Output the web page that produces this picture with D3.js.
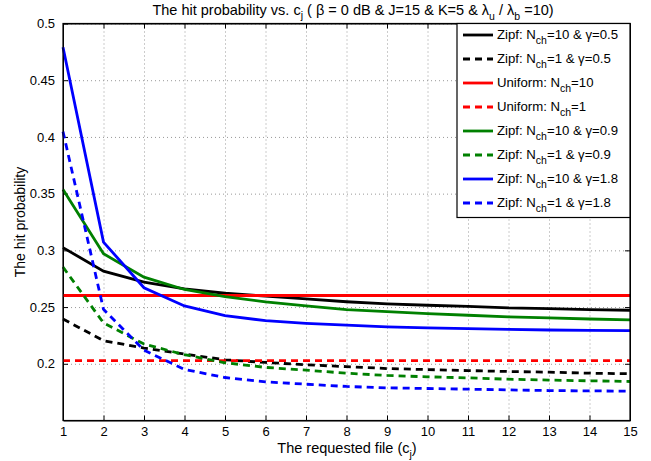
<!DOCTYPE html>
<html>
<head>
<meta charset="utf-8">
<script src="https://cdn.jsdelivr.net/npm/d3@7"></script>
<style>
  body { margin: 0; background: #fff; }
  svg { font-family: "Liberation Sans", Arial, sans-serif; }
</style>
</head>
<body>
<div id="root"></div>
<script>
// requested file index c_j
const files = [1, 2, 3, 4, 5, 6, 7, 8, 9, 10, 11, 12, 13, 14, 15];

// hit probability per curve
const zipf10g05 = [0.3024, 0.2817, 0.272, 0.2661, 0.2622, 0.2596, 0.2572, 0.2547, 0.2528, 0.2516, 0.2507, 0.2493, 0.2487, 0.2478, 0.2472];
const zipf1g05 = [0.2395, 0.2204, 0.2139, 0.2086, 0.2035, 0.2012, 0.1991, 0.1975, 0.1958, 0.1949, 0.194, 0.1932, 0.1926, 0.1917, 0.1912];
const uniform10 = [0.2602, 0.2602, 0.2602, 0.2602, 0.2602, 0.2602, 0.2602, 0.2602, 0.2602, 0.2602, 0.2602, 0.2602, 0.2602, 0.2602, 0.2602];
const uniform1 = [0.2027, 0.2027, 0.2027, 0.2027, 0.2027, 0.2027, 0.2027, 0.2027, 0.2027, 0.2027, 0.2027, 0.2027, 0.2027, 0.2027, 0.2027];
const zipf10g09 = [0.3537, 0.297, 0.2764, 0.2655, 0.2593, 0.2546, 0.251, 0.2478, 0.246, 0.2442, 0.2428, 0.2413, 0.2404, 0.2395, 0.2387];
const zipf1g09 = [0.2853, 0.236, 0.2174, 0.208, 0.2009, 0.1968, 0.1944, 0.1917, 0.1897, 0.1885, 0.1876, 0.1864, 0.1856, 0.185, 0.1844];
const zipf10g18 = [0.479, 0.3073, 0.267, 0.251, 0.2425, 0.238, 0.2357, 0.234, 0.2325, 0.2316, 0.231, 0.2304, 0.2298, 0.2295, 0.2292];
const zipf1g18 = [0.4047, 0.248, 0.212, 0.195, 0.1879, 0.1841, 0.182, 0.18, 0.1788, 0.1782, 0.1776, 0.177, 0.1764, 0.1761, 0.1759];

const seriesLabels = [
  "Zipf: N_ch=10 & γ=0.5",
  "Zipf: N_ch=1 & γ=0.5",
  "Uniform: N_ch=10",
  "Uniform: N_ch=1",
  "Zipf: N_ch=10 & γ=0.9",
  "Zipf: N_ch=1 & γ=0.9",
  "Zipf: N_ch=10 & γ=1.8",
  "Zipf: N_ch=1 & γ=1.8",
];
const seriesValues = [zipf10g05, zipf1g05, uniform10, uniform1, zipf10g09, zipf1g09, zipf10g18, zipf1g18];
const seriesColors = ["#000000", "#000000", "#ff0000", "#ff0000", "#008000", "#008000", "#0000ff", "#0000ff"];
const seriesDashed = [false, true, false, true, false, true, false, true];

const yTicks = [0.2, 0.25, 0.3, 0.35, 0.4, 0.45, 0.5];
const xTicks = files;

const width = 651;
const height = 461;
const plotLeft = 63, plotRight = 630, plotTop = 23.5, plotBottom = 420.5;

const svg = d3.select("#root")
  .append("svg")
  .attr("width", width)
  .attr("height", height);

const x = d3.scaleLinear().domain([1, 15]).range([plotLeft, plotRight]);
const y = d3.scaleLinear().domain([0.15, 0.5]).range([plotBottom, plotTop]);

// Grid (dotted)
svg.append("g")
  .attr("transform", `translate(0,${plotBottom})`)
  .call(d3.axisBottom(x).tickValues(xTicks).tickSize(-(plotBottom - plotTop)).tickFormat(""))
  .call((g) => g.select(".domain").remove())
  .selectAll("line")
  .attr("stroke", "#999")
  .attr("stroke-dasharray", "1,3");
svg.append("g")
  .attr("transform", `translate(${plotLeft},0)`)
  .call(d3.axisLeft(y).tickValues(yTicks).tickSize(-(plotRight - plotLeft)).tickFormat(""))
  .call((g) => g.select(".domain").remove())
  .selectAll("line")
  .attr("stroke", "#999")
  .attr("stroke-dasharray", "1,3");

// Axes with inward ticks
svg.append("g")
  .attr("transform", `translate(0,${plotBottom})`)
  .call(d3.axisBottom(x).tickValues(xTicks).tickSizeInner(-5).tickSizeOuter(0).tickPadding(6));
svg.append("g")
  .attr("transform", `translate(${plotLeft},0)`)
  .call(d3.axisLeft(y).tickValues(yTicks).tickSizeInner(-5).tickSizeOuter(0).tickPadding(8)
    .tickFormat(d3.format("")));
svg.append("g")
  .attr("transform", `translate(0,${plotTop})`)
  .call(d3.axisTop(x).tickValues(xTicks).tickSizeInner(-5).tickSizeOuter(0).tickFormat(""));
svg.append("g")
  .attr("transform", `translate(${plotRight},0)`)
  .call(d3.axisRight(y).tickValues(yTicks).tickSizeInner(-5).tickSizeOuter(0).tickFormat(""));

svg.selectAll(".tick text").attr("font-size", 13).attr("fill", "#000");
svg.selectAll(".tick line").filter(function () { return !this.getAttribute("stroke-dasharray"); }).attr("stroke", "#000");

// Curves
const line = d3.line()
  .x((d, i) => x(files[i]))
  .y((d) => y(d));

seriesValues.forEach((vals, i) => {
  svg.append("path")
    .datum(vals)
    .attr("d", line)
    .attr("fill", "none")
    .attr("stroke", seriesColors[i])
    .attr("stroke-width", 2.8)
    .attr("stroke-dasharray", seriesDashed[i] ? "7,5" : null);
});

// Box
svg.append("rect")
  .attr("x", plotLeft)
  .attr("y", plotTop)
  .attr("width", plotRight - plotLeft)
  .attr("height", plotBottom - plotTop)
  .attr("fill", "none")
  .attr("stroke", "#000")
  .attr("stroke-width", 1.2);

// Title
const title = svg.append("text")
  .attr("x", 353)
  .attr("y", 15)
  .attr("text-anchor", "middle")
  .attr("font-size", 14.5);
title.append("tspan").text("The hit probability vs. c");
title.append("tspan").attr("font-size", 10.5).attr("dy", 4).text("j");
title.append("tspan").attr("dy", -4).text(" ( β = 0 dB & J=15 & K=5 & λ");
title.append("tspan").attr("font-size", 10.5).attr("dy", 5).text("u");
title.append("tspan").attr("dy", -5).text(" / λ");
title.append("tspan").attr("font-size", 10.5).attr("dy", 5).text("b");
title.append("tspan").attr("dy", -5).text(" =10)");

// Axis labels
const xLabel = svg.append("text")
  .attr("x", 347)
  .attr("y", 453)
  .attr("text-anchor", "middle")
  .attr("font-size", 14.5);
xLabel.append("tspan").text("The requested file (c");
xLabel.append("tspan").attr("font-size", 10.5).attr("dy", 5).text("j");
xLabel.append("tspan").attr("dy", -5).text(")");

svg.append("text")
  .attr("transform", `translate(25,${(plotTop + plotBottom) / 2}) rotate(-90)`)
  .attr("text-anchor", "middle")
  .attr("font-size", 14)
  .text("The hit probability");

// Legend
const legend = svg.append("g");
legend.append("rect")
  .attr("x", 457)
  .attr("y", plotTop)
  .attr("width", plotRight - 457)
  .attr("height", 194)
  .attr("fill", "#fff")
  .attr("stroke", "#000")
  .attr("stroke-width", 1.2);

seriesLabels.forEach((label, i) => {
  const ly = 35 + i * 24;
  legend.append("line")
    .attr("x1", 463)
    .attr("x2", 493)
    .attr("y1", ly)
    .attr("y2", ly)
    .attr("stroke", seriesColors[i])
    .attr("stroke-width", 2.8)
    .attr("stroke-dasharray", seriesDashed[i] ? "7,5" : null);
  const parts = label.split("_ch");
  const t = legend.append("text")
    .attr("x", 497)
    .attr("y", ly + 4)
    .attr("font-size", 13.2);
  t.append("tspan").text(parts[0]);
  t.append("tspan").attr("font-size", 10.5).attr("dy", 5).text("ch");
  t.append("tspan").attr("dy", -5).text(parts[1]);
});
</script>
</body>
</html>
